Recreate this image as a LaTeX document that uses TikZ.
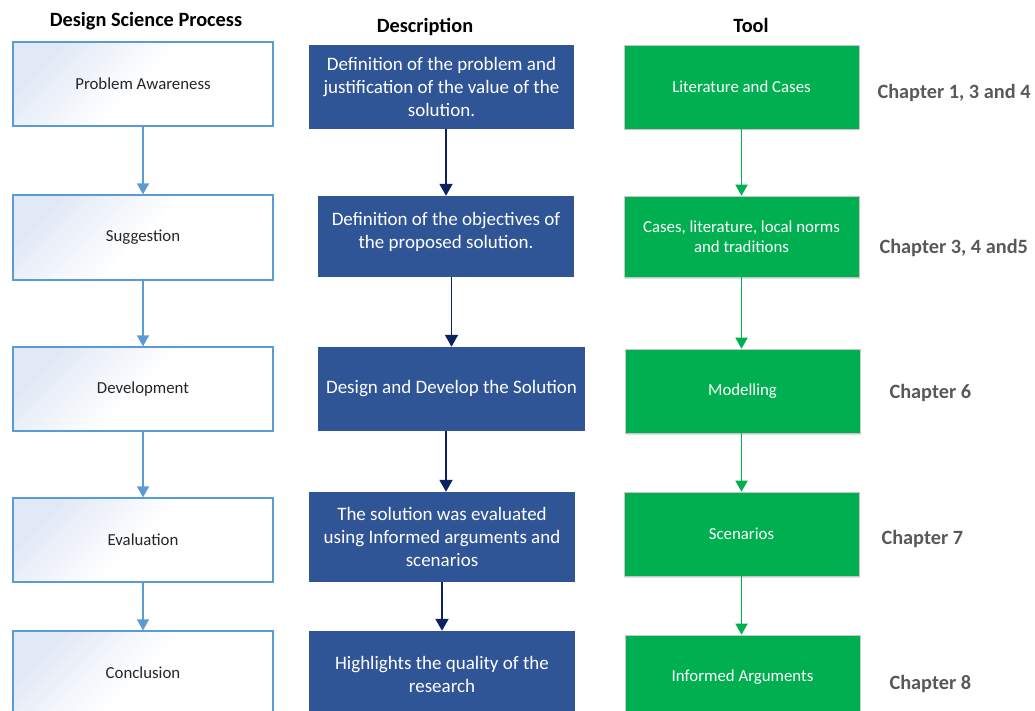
\documentclass[tikz,border=0pt]{standalone}
\usepackage{fontspec}
\setmainfont{Carlito}
\usetikzlibrary{arrows.meta,shadows}
\definecolor{procline}{HTML}{5B9BD5}
\definecolor{procfill}{HTML}{E2E9F6}
\definecolor{proctext}{HTML}{262626}
\definecolor{descfill}{HTML}{2F5597}
\definecolor{descarrow}{HTML}{0B2260}
\definecolor{toolfill}{HTML}{00B050}
\definecolor{toolline}{HTML}{C8C8C8}
\definecolor{chapgray}{HTML}{595959}
\begin{document}
\begin{tikzpicture}[x=1pt,y=-1pt,
  procbox/.style={draw=procline, line width=1.2pt, top color=procfill, bottom color=white,
    middle color=white, shading angle=45, minimum width=260pt, minimum height=84pt,
    inner sep=0pt, font=\fontsize{16.8}{20}\selectfont, text=proctext, align=center},
  descbox/.style={fill=descfill, minimum width=265pt, minimum height=84pt, inner sep=0pt,
    font=\fontsize{19}{23}\selectfont, text=white, align=center},
  toolbox/.style={fill=toolfill, draw=toolline, line width=0.6pt, minimum width=235pt, minimum height=84pt,
    inner sep=0pt, font=\fontsize{16.8}{20}\selectfont, text=white, align=center,
    drop shadow={shadow xshift=1pt, shadow yshift=-1.5pt, opacity=0.25}},
  header/.style={font=\fontsize{20.3}{24}\selectfont\bfseries, text=black, anchor=base},
  chapter/.style={font=\fontsize{20.3}{24}\selectfont\bfseries, text=chapgray, anchor=base west},
  procarrow/.style={draw=procline, line width=1.5pt, -{Triangle[width=12pt,length=11pt]}},
  descarr/.style={draw=descarrow, line width=1.9pt, -{Triangle[width=13pt,length=12pt]}},
  toolarrow/.style={draw=toolfill, line width=1.5pt, -{Triangle[width=12pt,length=11pt]}}
]
\path[use as bounding box, clip] (0,0) rectangle (1035,711);

% column headers
\node[header] (h1) at (146,27) {Design Science Process};
\node[header] (h2) at (425,33) {Description};
\node[header] (h3) at (751,33) {Tool};

% design science process
\node[procbox] (p1) at (143,84) {Problem Awareness};
\node[procbox, minimum height=85pt] (p2) at (143,237.5) {Suggestion};
\node[procbox] (p3) at (143,389) {Development};
\node[procbox] (p4) at (143,540) {Evaluation};
\node[procbox] (p5) at (143,673) {Conclusion};

% description
\node[descbox] (m1) at (441.5,87) {Definition of the problem and\\justification of the value of the\\solution.};
\node[descbox, minimum width=256pt, minimum height=81pt, text depth=12pt] (m2) at (446,236.5) {Definition of the objectives of\\the proposed solution.};
\node[descbox, minimum width=267pt] (m3) at (451.5,389) {Design and Develop the Solution};
\node[descbox, minimum width=266pt, minimum height=90pt] (m4) at (442,537) {The solution was evaluated\\using Informed arguments and\\scenarios};
\node[descbox, minimum width=266pt, minimum height=86pt] (m5) at (442,674) {Highlights the quality of the\\research};

% tools
\node[toolbox] (t1) at (741.5,87) {Literature and Cases};
\node[toolbox, minimum height=81pt] (t2) at (741.5,236.5) {Cases, literature, local norms\\and traditions};
\node[toolbox] (t3) at (742.5,391) {Modelling};
\node[toolbox] (t4) at (741.5,534) {Scenarios};
\node[toolbox] (t5) at (742.5,677) {Informed Arguments};

% chapter references
\node[chapter] (c1) at (874,99) {Chapter 1, 3 and 4};
\node[chapter] (c2) at (876,254) {Chapter 3, 4 and5};
\node[chapter] (c3) at (886,398) {Chapter 6};
\node[chapter] (c4) at (878,544) {Chapter 7};
\node[chapter] (c5) at (886,689) {Chapter 8};

% connectors
\draw[procarrow] (p1.south) -- (p2.north);
\draw[procarrow] (p2.south) -- (p3.north);
\draw[procarrow] (p3.south) -- (p4.north);
\draw[procarrow] (p4.south) -- (p5.north);

\draw[descarr] (m1.south -| m2.north) -- (m2.north);
\draw[descarr] (m2.south -| m3.north) -- (m3.north);
\draw[descarr] (m3.south -| m2.south) -- (m4.north -| m2.south);
\draw[descarr] (m4.south) -- (m5.north);

\draw[toolarrow] (t1.south) -- (t2.north);
\draw[toolarrow] (t2.south) -- (t3.north -| t2.south);
\draw[toolarrow] (t3.south -| t2.south) -- (t4.north);
\draw[toolarrow] (t4.south) -- (t5.north -| t4.south);
\end{tikzpicture}
\end{document}
